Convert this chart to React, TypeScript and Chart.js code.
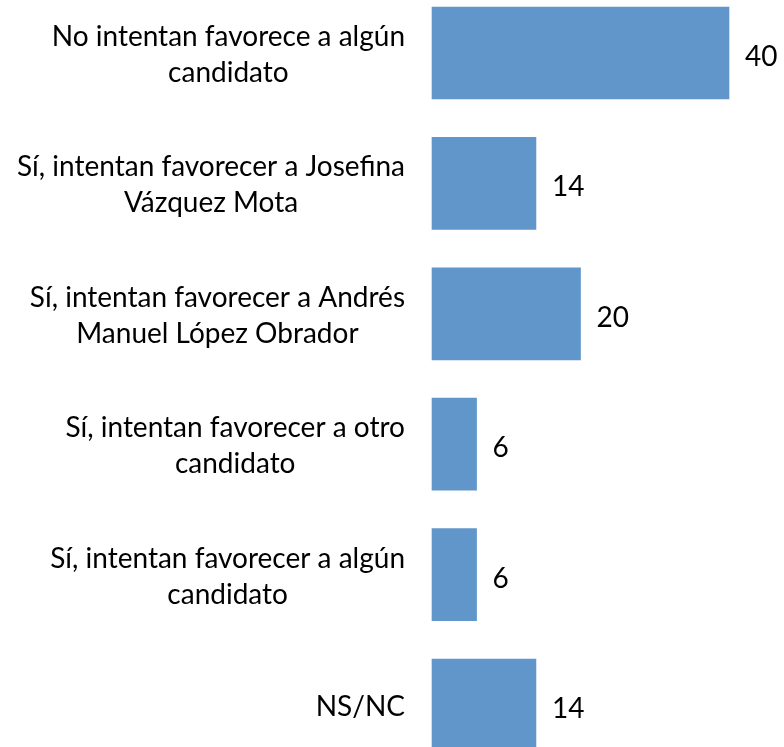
import React, { useEffect, useRef } from "react";
import { Chart, registerables } from "chart.js";

Chart.register(...registerables);

const categories: string[][] = [
  ["No intentan favorece a algún", "candidato"],
  ["Sí, intentan favorecer a Josefina", "Vázquez Mota"],
  ["Sí, intentan favorecer a Andrés", "Manuel López Obrador"],
  ["Sí, intentan favorecer a otro", "candidato"],
  ["Sí, intentan favorecer a algún", "candidato"],
  ["NS/NC"],
];
const values: number[] = [40, 14, 20, 6, 6, 14];

const FONT = "28px Lato";
const LABEL_RIGHT = 405;
const LINE_H = 36;

const labelPlugin = {
  id: "customLabels",
  afterDatasetsDraw(chart: any) {
    const ctx = chart.ctx;
    const yScale = chart.scales.y;
    ctx.save();
    ctx.font = FONT;
    ctx.fillStyle = "#000";
    ctx.textBaseline = "middle";
    ctx.textAlign = "center";
    categories.forEach((lines, i) => {
      const yc = yScale.getPixelForValue(i);
      const w = Math.max(...lines.map((l) => ctx.measureText(l).width));
      const cx = LABEL_RIGHT - w / 2;
      const y0 = yc - ((lines.length - 1) * LINE_H) / 2 + 2;
      lines.forEach((l, j) => ctx.fillText(l, cx, y0 + j * LINE_H));
    });
    const meta = chart.getDatasetMeta(0);
    ctx.textAlign = "left";
    meta.data.forEach((bar: any, i: number) => {
      ctx.fillText(String(values[i]), bar.x + 16, bar.y + 4);
    });
    ctx.restore();
  },
};

export default function App() {
  const ref = useRef<HTMLCanvasElement>(null);
  useEffect(() => {
    const chart = new Chart(ref.current!, {
      type: "bar",
      data: {
        labels: categories.map((c) => c.join(" ")),
        datasets: [
          {
            data: values,
            backgroundColor: "#6096c9",
            borderWidth: 0,
            barThickness: 92,
            clip: false as any,
          },
        ],
      },
      options: {
        indexAxis: "y",
        animation: false,
        responsive: true,
        maintainAspectRatio: false,
        layout: { padding: { left: 432, right: 55, top: 53, bottom: 42 } },
        plugins: { legend: { display: false }, tooltip: { enabled: false } },
        scales: {
          x: { display: false, min: 0, max: 40 },
          y: { display: false, offset: false },
        },
      },
      plugins: [labelPlugin],
    });
    return () => chart.destroy();
  }, []);
  return (
    <div style={{ position: "absolute", left: 0, top: 0, width: 784, height: 747 }}>
      <canvas ref={ref} />
    </div>
  );
}
